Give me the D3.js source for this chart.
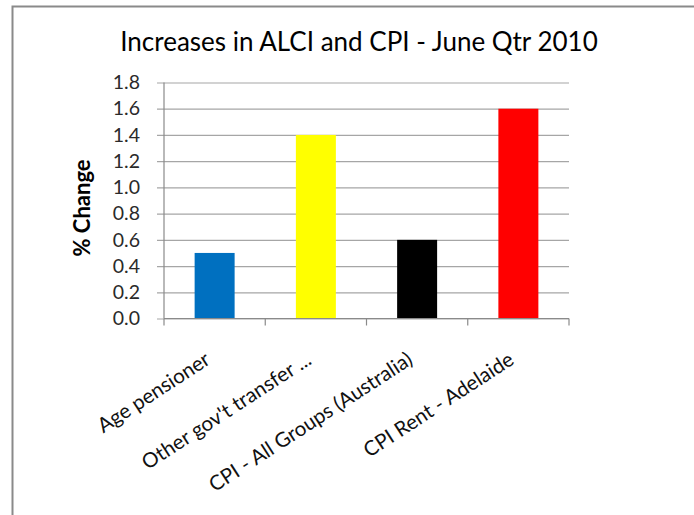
<!DOCTYPE html>
<html>
<head>
<meta charset="utf-8">
<script src="https://cdn.jsdelivr.net/npm/d3@7"></script>
<style>
  html, body { margin: 0; padding: 0; background: #fff; }
  svg { display: block; }
  text { font-family: Lato, "Open Sans", sans-serif; }
</style>
</head>
<body>
<svg id="chart" width="694" height="515"></svg>
<script>
const categories = ["Age pensioner", "Other gov't transfer ...", "CPI - All Groups (Australia)", "CPI Rent - Adelaide"];
const values = [0.5, 1.4, 0.6, 1.6];
const barColors = ["#0070c0", "#ffff00", "#000000", "#ff0000"];
const yTicks = [0, 0.2, 0.4, 0.6, 0.8, 1.0, 1.2, 1.4, 1.6, 1.8];
const titleText = "Increases in ALCI and CPI - June Qtr 2010";
const yTitle = "% Change";

const svg = d3.select("#chart");

// outer frame (right and bottom edges fall outside the picture)
svg.append("rect")
  .attr("x", 12.5).attr("y", 6.5)
  .attr("width", 700).attr("height", 540)
  .attr("fill", "#fff")
  .attr("stroke", "#8a8a8a").attr("stroke-width", 2);

const plot = { left: 164, right: 569, top: 82.5, bottom: 318.5 };

const x = d3.scaleBand()
  .domain(categories)
  .range([plot.left, plot.right])
  .paddingInner(0.605)
  .paddingOuter(0.3025);

const y = d3.scaleLinear()
  .domain([0, 1.8])
  .range([plot.bottom, plot.top]);

// gridlines + y axis
const yAxis = d3.axisLeft(y)
  .tickValues(yTicks)
  .tickFormat(d3.format(".1f"))
  .tickSize(-(plot.right - plot.left))
  .tickSizeOuter(0)
  .tickPadding(24);

const gy = svg.append("g")
  .attr("transform", `translate(${plot.left},0)`)
  .call(yAxis);
gy.select(".domain").remove();
gy.selectAll(".tick line")
  .attr("x1", -7)
  .attr("stroke", "#a6a6a6").attr("stroke-width", 1.2);
gy.selectAll(".tick text")
  .attr("fill", "#2a2a2a")
  .style("font-size", "19.5px")
  .style("font-family", "Lato, sans-serif");

// bars
svg.append("g").selectAll("rect")
  .data(values)
  .join("rect")
  .attr("x", (d, i) => x(categories[i]))
  .attr("width", x.bandwidth())
  .attr("y", d => y(d))
  .attr("height", d => y(0) - y(d))
  .attr("fill", (d, i) => barColors[i]);

// y axis line
svg.append("line")
  .attr("x1", plot.left).attr("x2", plot.left)
  .attr("y1", plot.top).attr("y2", plot.bottom)
  .attr("stroke", "#8a8a8a").attr("stroke-width", 1.2);

// x axis line with boundary ticks
const gx = svg.append("g");
gx.append("line")
  .attr("x1", plot.left).attr("x2", plot.right)
  .attr("y1", plot.bottom).attr("y2", plot.bottom)
  .attr("stroke", "#8a8a8a").attr("stroke-width", 1.2);
const boundaries = categories.map(c => x(c) - x.step() * x.paddingInner() / 2);
boundaries.push(plot.right);
boundaries[0] = plot.left;
gx.selectAll("line.tk")
  .data(boundaries)
  .join("line")
  .attr("class", "tk")
  .attr("x1", d => d).attr("x2", d => d)
  .attr("y1", plot.bottom).attr("y2", plot.bottom + 7)
  .attr("stroke", "#8a8a8a").attr("stroke-width", 1.2);

// x labels
gx.selectAll("text")
  .data(categories)
  .join("text")
  .attr("text-anchor", "end")
  .attr("transform", d => `translate(${x(d) + x.bandwidth() / 2 - 3},363) rotate(-33)`)
  .attr("fill", "#111")
  .style("font-size", "20.5px")
  .text(d => d);

// title
svg.append("text")
  .attr("x", 359).attr("y", 51)
  .attr("text-anchor", "middle")
  .attr("fill", "#000")
  .style("font-size", "26px")
  .text(titleText);

// y title
svg.append("text")
  .attr("transform", "translate(90,208) rotate(-90)")
  .attr("text-anchor", "middle")
  .attr("fill", "#000")
  .style("font-size", "22px")
  .style("font-weight", "bold")
  .text(yTitle);
</script>
</body>
</html>
